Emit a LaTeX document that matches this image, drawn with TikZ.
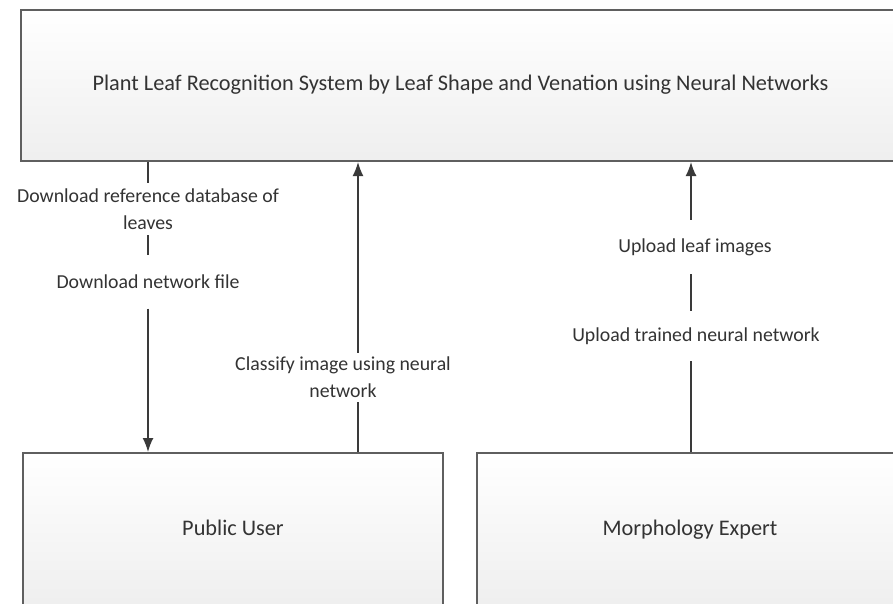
\documentclass[tikz,border=0pt]{standalone}
\usepackage{fontspec}
\setmainfont{Carlito}
\usetikzlibrary{arrows.meta}
\definecolor{boxline}{HTML}{5F5F5F}
\definecolor{conline}{HTML}{3A3A3A}
\definecolor{txt}{HTML}{333333}
\begin{document}
\begin{tikzpicture}[x=1pt,y=-1pt,
  box/.style={draw=boxline, line width=2pt, top color=white, bottom color=gray!13,
    rectangle, inner sep=0pt, font=\fontsize{22.3}{26}\selectfont, text=txt,
    text height=1.1em, text depth=0.1em},
  lbl/.style={inner xsep=2pt, inner ysep=0pt, align=center,
    font=\fontsize{19.8}{27}\selectfont, text=txt},
  con/.style={draw=conline, line width=1.6pt},
  arr/.style={con, -{Latex[length=14pt,width=11pt]}}]
\clip (0,0) rectangle (893,603);
\fill[white] (0,0) rectangle (893,603);

\node[box, minimum width=879pt, minimum height=151pt] (sys) at (460.5,85.5)
  {Plant Leaf Recognition System by Leaf Shape and Venation using Neural Networks};
\node[box, minimum width=420pt, minimum height=155pt] (pu) at (233,530.5) {Public User};
\node[box, minimum width=426pt, minimum height=155pt] (me) at (690,530.5) {Morphology Expert};

\coordinate (xa) at (148,0);
\coordinate (xb) at (358,0);
\coordinate (xc) at (691,0);

\node[lbl, minimum height=52pt] (l1) at (148,209) {Download reference database of\\leaves};
\node[lbl, minimum height=53pt] (l2) at (148,282) {Download network file};
\node[lbl, minimum height=49pt] (l3) at (343,377.5) {Classify image using neural\\network};
\node[lbl, minimum height=54pt] (l4) at (695,247) {Upload leaf images};
\node[lbl, minimum height=50pt] (l5) at (696,336) {Upload trained neural network};

\draw[con] (sys.south -| xa) -- (l1.north -| xa);
\draw[con] (l1.south -| xa) -- (l2.north -| xa);
\draw[arr] (l2.south -| xa) -- (pu.north -| xa);
\draw[con] (pu.north -| xb) -- (l3.south -| xb);
\draw[arr] (l3.north -| xb) -- (sys.south -| xb);
\draw[con] (me.north -| xc) -- (l5.south -| xc);
\draw[con] (l5.north -| xc) -- (l4.south -| xc);
\draw[arr] (l4.north -| xc) -- (sys.south -| xc);
\end{tikzpicture}
\end{document}
